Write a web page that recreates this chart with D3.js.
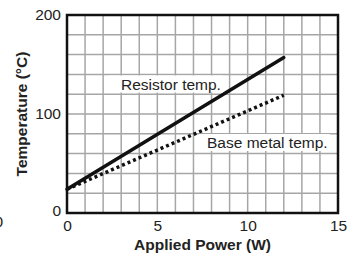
<!DOCTYPE html>
<html>
<head>
<meta charset="utf-8">
<script src="https://cdn.jsdelivr.net/npm/d3@7"></script>
<style>
  body { margin: 0; background: #fff; }
  text { font-family: "Liberation Sans", Arial, sans-serif; }
</style>
</head>
<body>
<div id="chart"></div>
<script>
// data
var power = [0, 12];
var resistorTemp = [24, 157];
var baseMetalTemp = [24, 119];
var xTicks = [0, 5, 10, 15];
var yTicks = [0, 100, 200];

var margin = {top: 15, right: 18, bottom: 41, left: 67},
    width = 356 - margin.left - margin.right,
    height = 254 - margin.top - margin.bottom;
var fs = 15.5;

var root = d3.select("#chart")
    .append("svg")
    .attr("width", 356)
    .attr("height", 254);

// stray clipped digit at the left edge (from a neighbouring figure)
root.append("text")
    .attr("x", -5.5).attr("y", 227)
    .attr("font-size", fs).attr("fill", "#222")
    .text("0");

var svg = root.append("g")
    .attr("transform", "translate(" + margin.left + "," + margin.top + ")");

var x = d3.scaleLinear().domain([0, 15]).range([0, width]);
var y = d3.scaleLinear().domain([0, 200]).range([height, 0]);

// grid
svg.append("g")
    .selectAll("line")
    .data(d3.range(1, 15))
    .enter().append("line")
    .attr("x1", function(d) { return x(d); })
    .attr("x2", function(d) { return x(d); })
    .attr("y1", 0).attr("y2", height)
    .attr("stroke", "#a6a6a6").attr("stroke-width", 1.5);
svg.append("g")
    .selectAll("line")
    .data(d3.range(20, 200, 20))
    .enter().append("line")
    .attr("y1", function(d) { return y(d); })
    .attr("y2", function(d) { return y(d); })
    .attr("x1", 0).attr("x2", width)
    .attr("stroke", "#a6a6a6").attr("stroke-width", 1.5);

// axes
var xAxis = d3.axisBottom(x).tickValues(xTicks).tickSize(0).tickPadding(7);
var yAxis = d3.axisLeft(y).tickValues(yTicks).tickSize(0).tickPadding(6);
var gx = svg.append("g").attr("transform", "translate(0," + height + ")").call(xAxis);
var gy = svg.append("g").call(yAxis);
gx.select(".domain").remove();
gy.select(".domain").remove();
gx.selectAll("text").attr("font-size", fs).attr("fill", "#222")
    .attr("font-family", "Liberation Sans, Arial, sans-serif");
gy.selectAll("text").attr("font-size", fs).attr("fill", "#222")
    .attr("font-family", "Liberation Sans, Arial, sans-serif")
    .attr("dy", function(d) { return d === 0 ? "0.13em" : "0.32em"; });

// frame
svg.append("rect")
    .attr("x", 0).attr("y", 0)
    .attr("width", width).attr("height", height)
    .attr("fill", "none").attr("stroke", "#111").attr("stroke-width", 2.5);

// lines
function pts(vals) {
    return power.map(function(p, i) { return [p, vals[i]]; });
}
var line = d3.line()
    .x(function(d) { return x(d[0]); })
    .y(function(d) { return y(d[1]); });

svg.append("path")
    .attr("d", line(pts(baseMetalTemp)))
    .attr("fill", "none").attr("stroke", "#111")
    .attr("stroke-width", 3.5).attr("stroke-dasharray", "3,3");
svg.append("path")
    .attr("d", line(pts(resistorTemp)))
    .attr("fill", "none").attr("stroke", "#111")
    .attr("stroke-width", 3.5).attr("stroke-linecap", "round");

// labels with white backing
function label(txt, px, py, padL) {
    var g = svg.append("g");
    var t = g.append("text")
        .attr("x", px).attr("y", py)
        .attr("font-size", fs).attr("fill", "#222")
        .text(txt);
    var bb = t.node().getBBox();
    g.insert("rect", "text")
        .attr("x", bb.x - padL).attr("y", bb.y)
        .attr("width", bb.width + padL + 2).attr("height", bb.height)
        .attr("fill", "#fff");
}
label("Resistor temp.", 54, 74.5, 12);
label("Base metal temp.", 140, 133, 8);

// axis titles
svg.append("text")
    .attr("x", width / 2).attr("y", height + 37)
    .attr("text-anchor", "middle")
    .attr("font-size", fs).attr("font-weight", "bold").attr("fill", "#222")
    .text("Applied Power (W)");
svg.append("text")
    .attr("transform", "translate(-40," + (height / 2) + ") rotate(-90)")
    .attr("text-anchor", "middle")
    .attr("font-size", fs).attr("font-weight", "bold").attr("fill", "#222")
    .text("Temperature (°C)");
</script>
</body>
</html>
